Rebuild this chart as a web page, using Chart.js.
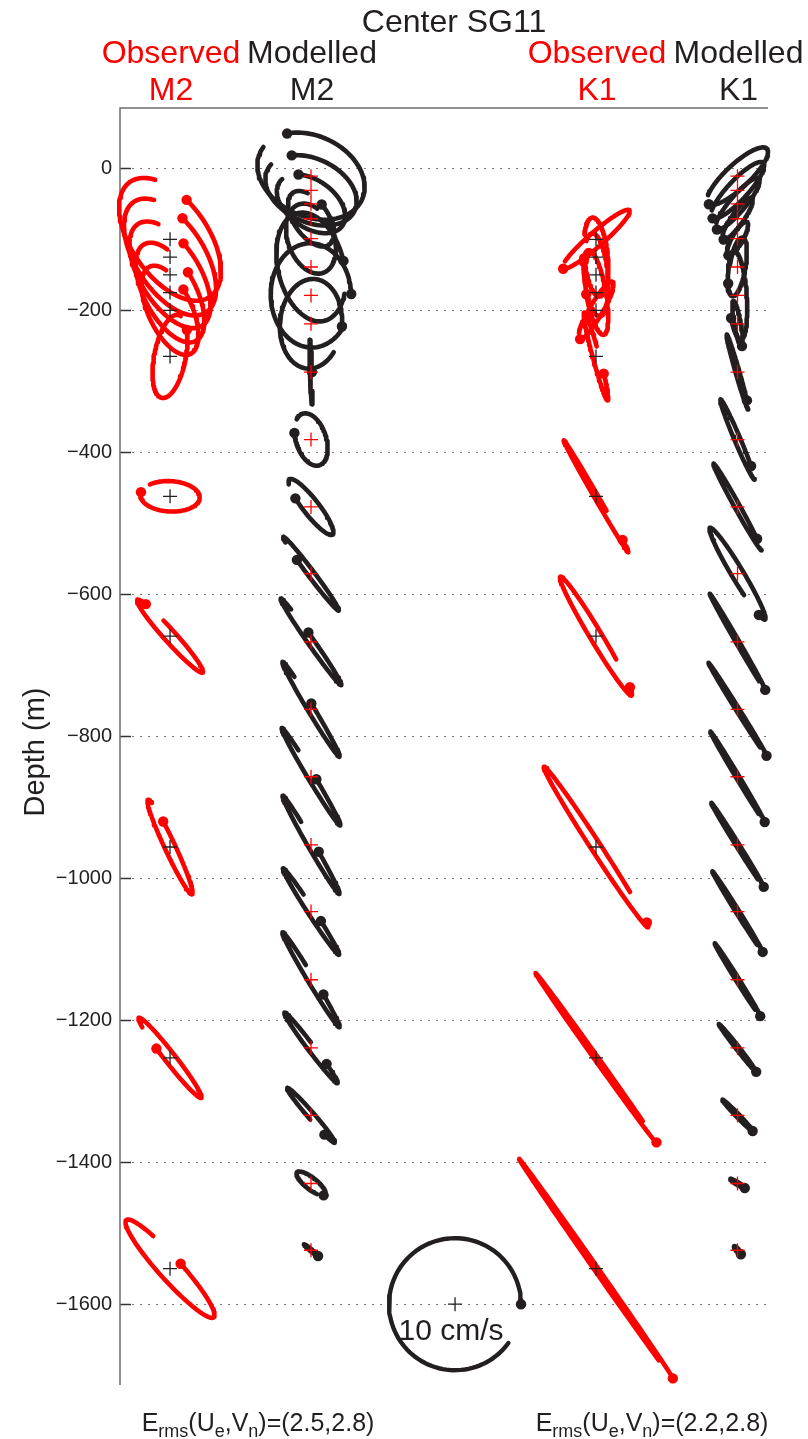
<!DOCTYPE html>
<html>
<head>
<meta charset="utf-8">
<script src="https://cdn.jsdelivr.net/npm/chart.js@4.4.1/dist/chart.umd.min.js"></script>
<style>
  html, body { margin: 0; padding: 0; background: #fff; }
  canvas { display: block; }
</style>
</head>
<body>
<canvas id="grafico" width="808" height="1439"></canvas>
<script>
// profundidades dos centros (m)
const obsDepth = [-100, -125, -150, -175, -200, -265, -462, -659, -956, -1253, -1550];
const modDepth = [-11, -31, -50, -71, -99, -139, -179, -219, -287, -382, -477, -571, -667, -762, -857, -953, -1047, -1143, -1239, -1334, -1430, -1524];

// elipses M2 observadas (cm/s, graus)
const obsM2Major = [10.6, 10.0, 9.1, 8.3, 7.3, 6.4, 4.5, 7.4, 7.9, 7.7, 9.9];
const obsM2Minor = [-5.8, -5.2, -4.5, -3.9, -3.3, -2.4, 2.3, 0.9, -0.8, 0.8, -1.7];
const obsM2Inc   = [-55, -57, -58, -62, -65, 79, -3, -48, -65, -52, -48];
const obsM2Phase = [109, 113, 109, 100, 106, 314, 170, 145, 120, 252, 87];

// elipses M2 modeladas
const modM2Major = [8.5, 7.3, 5.8, 4.8, 5.5, 8.4, 7.9, 6.8, 4.9, 4.1, 5.3, 7.0, 8.0, 8.4, 8.6, 8.6, 7.8, 8.4, 6.7, 5.5, 2.7, 1.4];
const modM2Minor = [-6.1, -4.8, -3.6, -2.6, -3.5, 5.0, 6.1, 4.7, 0.15, 2.3, 1.2, 0.5, -0.5, -0.5, -0.5, -0.5, -0.5, -0.5, -0.5, 0.5, 0.9, 0.15];
const modM2Inc   = [-25, -25, -35, -55, -70, -76, -88, -95, -88, -72, -52, -53, -55, -59, -59, -60, -57, -59, -53, -49, -38, -40];
const modM2Phase = [135, 132, 135, 100, 100, 88, 90, 90, 90, 245, 242, 245, 100, 95, 85, 80, 75, 70, 60, 310, 345, 10];

// elipses K1 observadas
const obsK1Major = [6.7, 6.0, 6.3, 6.5, 5.0, 6.9, 9.8, 10.5, 14.5, 15.8, 20.3];
const obsK1Minor = [1.1, 1.8, 1.8, 1.5, 1.0, -0.5, -0.3, -0.9, -0.75, -0.3, 0.3];
const obsK1Inc   = [41, -85, -85, -80, 60, -75, -60, -59, -57, -54.5, -55];
const obsK1Phase = [185, 270, 250, 270, 185, 66, 38, 28, 18, 5, 2];

// elipses K1 modeladas
const modK1Major = [6.1, 5.7, 5.0, 3.8, 2.9, 4.5, 6.7, 3.5, 5.9, 6.6, 7.5, 8.1, 8.4, 8.3, 8.0, 7.5, 7.2, 6.5, 4.6, 3.3, 1.3, 0.8];
const modK1Minor = [1.8, 1.5, 1.2, 0.9, 0.8, 1.2, 1.4, 0.5, 0.3, 0.45, 0.4, 0.9, 0.25, 0.25, 0.25, 0.25, 0.25, 0.25, 0.25, 0.25, 0.2, 0.2];
const modK1Inc   = [43, 47, 50, 55, 60, 80, -86, -80, -74, -67, -61, -59, -60, -58, -59, -58, -58, -58, -52, -46, -32, -50];
const modK1Phase = [185, 185, 185, 185, 185, 127, 300, 10, 40, 47, 41, 330, 0, 0, 0, 0, 0, 0, 0, 0, 0, 0];

const yTicks = [0, -200, -400, -600, -800, -1000, -1200, -1400, -1600];
const headerTop = ["Observed", "Modelled", "Observed", "Modelled"];
const headerBottom = ["M2", "M2", "K1", "K1"];
const ermsM2 = [2.5, 2.8];
const ermsK1 = [2.2, 2.8];
const scaleSpeed = 10;    // cm/s
const scaleDepth = -1600; // m

// layout / estilo
const colX = { obsM2: 7.58, modM2: 28.94, obsK1: 72.12, modK1: 93.56, escala: 50.76 };
const M_PER_CM = 9.3;   // metros por cm/s no eixo vertical
const SPAN = 0.9;       // fracao do ciclo desenhada
const RED = "#ff0000";
const BLACK = "#231f20";
const FONT = "'Liberation Sans', Arial, Helvetica, sans-serif";

function ellipsePoints(x0, z0, a, b, inc, phase) {
  const dir = b < 0 ? -1 : 1;
  const bb = Math.abs(b);
  const ci = Math.cos(inc * Math.PI / 180), si = Math.sin(inc * Math.PI / 180);
  const n = 100, pts = [];
  for (let k = 0; k <= n; k++) {
    const t = (phase + dir * SPAN * 360 * k / n) * Math.PI / 180;
    const p = a * Math.cos(t), q = bb * Math.sin(t);
    pts.push({ x: x0 + p * ci - q * si, y: z0 + (p * si + q * ci) * M_PER_CM });
  }
  return pts;
}

const colunas = [
  { x: colX.obsM2, depth: obsDepth, major: obsM2Major, minor: obsM2Minor, inc: obsM2Inc, phase: obsM2Phase, cor: RED, corCruz: BLACK },
  { x: colX.modM2, depth: modDepth, major: modM2Major, minor: modM2Minor, inc: modM2Inc, phase: modM2Phase, cor: BLACK, corCruz: RED },
  { x: colX.obsK1, depth: obsDepth, major: obsK1Major, minor: obsK1Minor, inc: obsK1Inc, phase: obsK1Phase, cor: RED, corCruz: BLACK },
  { x: colX.modK1, depth: modDepth, major: modK1Major, minor: modK1Minor, inc: modK1Inc, phase: modK1Phase, cor: BLACK, corCruz: RED }
];

const datasets = [];
const pontosVermelhos = [], pontosPretos = [];
const cruzesPretas = [], cruzesVermelhas = [];

colunas.forEach(col => {
  col.depth.forEach((z, i) => {
    const pts = ellipsePoints(col.x, z, col.major[i], col.minor[i], col.inc[i], col.phase[i]);
    datasets.push({
      data: pts, showLine: true, pointRadius: 0, borderColor: col.cor, borderWidth: 4.6,
      borderCapStyle: "round", borderJoinStyle: "round", tension: 0, clip: false, order: 3
    });
    (col.cor === RED ? pontosVermelhos : pontosPretos).push(pts[0]);
    (col.corCruz === RED ? cruzesVermelhas : cruzesPretas).push({ x: col.x, y: z });
  });
});

// circulo de escala 10 cm/s
const circulo = ellipsePoints(colX.escala, scaleDepth, scaleSpeed, scaleSpeed, 0, 0);
datasets.push({
  data: circulo, showLine: true, pointRadius: 0, borderColor: BLACK, borderWidth: 4.4,
  borderCapStyle: "round", tension: 0, clip: false, order: 3
});
pontosPretos.push(circulo[0]);
cruzesPretas.push({ x: colX.escala, y: scaleDepth });

datasets.push({ data: pontosVermelhos, pointRadius: 5.2, backgroundColor: RED, borderWidth: 0, showLine: false, clip: false, order: 2 });
datasets.push({ data: pontosPretos, pointRadius: 5.2, backgroundColor: BLACK, borderWidth: 0, showLine: false, clip: false, order: 2 });
datasets.push({ data: cruzesPretas, pointStyle: "cross", pointRadius: 7, borderColor: BLACK, borderWidth: 1.3, showLine: false, clip: false, order: 1 });
datasets.push({ data: cruzesVermelhas, pointStyle: "cross", pointRadius: 7, borderColor: RED, borderWidth: 1.3, showLine: false, clip: false, order: 1 });

function drawErms(ctx, cx, base, vals) {
  const partes = [["E", 0], ["rms", 1], ["(U", 0], ["e", 1], [",V", 0], ["n", 1], [")=(" + vals[0].toFixed(1) + "," + vals[1].toFixed(1) + ")", 0]];
  const fontN = "25px " + FONT, fontS = "18px " + FONT;
  let total = 0;
  partes.forEach(p => { ctx.font = p[1] ? fontS : fontN; total += ctx.measureText(p[0]).width; });
  let x = cx - total / 2;
  ctx.textAlign = "left";
  ctx.textBaseline = "alphabetic";
  partes.forEach(p => {
    ctx.font = p[1] ? fontS : fontN;
    ctx.fillText(p[0], x, base + (p[1] ? 6 : 0));
    x += ctx.measureText(p[0]).width;
  });
}

const moldura = {
  id: "moldura",
  beforeDatasetsDraw(chart) {
    const { ctx, chartArea: a, scales: { y } } = chart;
    ctx.save();
    // grade pontilhada
    ctx.strokeStyle = "#777";
    ctx.lineWidth = 1;
    ctx.setLineDash([2, 6]);
    yTicks.forEach(v => {
      const py = Math.round(y.getPixelForValue(v)) + 0.5;
      ctx.beginPath(); ctx.moveTo(a.left + 12, py); ctx.lineTo(a.right, py); ctx.stroke();
    });
    ctx.setLineDash([]);
    // marcas para dentro
    ctx.strokeStyle = "#333";
    ctx.lineWidth = 1.5;
    yTicks.forEach(v => {
      const py = Math.round(y.getPixelForValue(v)) + 0.5;
      ctx.beginPath(); ctx.moveTo(a.left, py); ctx.lineTo(a.left + 11, py); ctx.stroke();
    });
    // eixos
    ctx.strokeStyle = "#6d6d6d";
    ctx.lineWidth = 1.5;
    ctx.beginPath();
    ctx.moveTo(a.left, a.bottom + 2);
    ctx.lineTo(a.left, a.top);
    ctx.lineTo(a.right, a.top);
    ctx.stroke();
    ctx.restore();
  },
  afterDraw(chart) {
    const { ctx, scales: { x, y } } = chart;
    ctx.save();
    ctx.fillStyle = BLACK;
    ctx.textAlign = "center";
    ctx.textBaseline = "alphabetic";
    ctx.font = "32px " + FONT;
    ctx.fillText("Center SG11", 454, 32);
    const xs = [colX.obsM2, colX.modM2, colX.obsK1, colX.modK1].map(v => x.getPixelForValue(v));
    xs.forEach((px, i) => {
      ctx.fillStyle = i % 2 === 0 ? RED : BLACK;
      ctx.fillText(headerTop[i], px + 1, 63);
      ctx.fillText(headerBottom[i], px + 1, 100);
    });
    // rotulo do eixo y
    ctx.fillStyle = BLACK;
    ctx.font = "29px " + FONT;
    ctx.save();
    ctx.translate(36, 752);
    ctx.rotate(-Math.PI / 2);
    ctx.textBaseline = "middle";
    ctx.fillText("Depth (m)", 0, 0);
    ctx.restore();
    // escala
    ctx.font = "30px " + FONT;
    ctx.textBaseline = "middle";
    ctx.fillText(scaleSpeed + " cm/s", x.getPixelForValue(colX.escala) - 4, y.getPixelForValue(scaleDepth) + 28);
    // erros rms
    drawErms(ctx, 258, 1431, ermsM2);
    drawErms(ctx, 652, 1431, ermsK1);
    ctx.restore();
  }
};

new Chart(document.getElementById("grafico"), {
  type: "scatter",
  data: { datasets },
  options: {
    responsive: false,
    animation: false,
    layout: { padding: { left: 0, right: 40, top: 108, bottom: 56 } },
    plugins: { legend: { display: false }, tooltip: { enabled: false } },
    scales: {
      x: { type: "linear", min: 0, max: 98.18, display: false },
      y: {
        type: "linear", min: -1711, max: 85,
        afterFit(s) { s.width = 120; },
        afterBuildTicks(s) { s.ticks = yTicks.map(v => ({ value: v })); },
        grid: { display: false, drawTicks: false },
        border: { display: false },
        ticks: {
          padding: 8, color: "#222", font: { family: FONT, size: 20 },
          callback: v => v < 0 ? "\u2212" + Math.abs(v) : String(v)
        }
      }
    }
  },
  plugins: [moldura]
});
</script>
</body>
</html>
